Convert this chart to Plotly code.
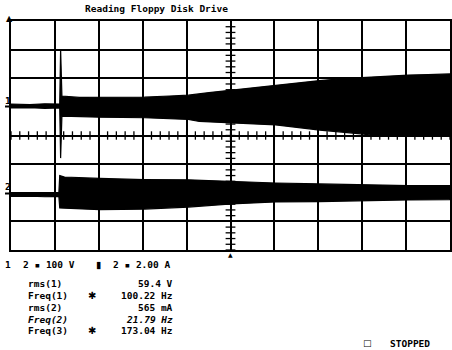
import plotly.graph_objects as go
import numpy as np

# ---- data (screen divisions; x: 0..10 div, y: -4..4 div) ----
title_text = "Reading Floppy Disk Drive"

ch1_top_x = [0, 0.43, 0.77, 1.11, 1.13, 1.16, 1.56, 2.02, 2.47, 3.04, 3.61, 4.04, 4.51,
             5.03, 5.53, 6.03, 6.55, 7.03, 7.57, 8.03, 8.48, 9.05, 9.50, 10]
ch1_top_y = [1.10, 1.08, 1.11, 1.10, 3.02, 1.38, 1.33, 1.34, 1.33, 1.34, 1.38, 1.41, 1.50,
             1.59, 1.68, 1.75, 1.83, 1.92, 1.99, 2.03, 2.08, 2.11, 2.13, 2.15]
ch1_bot_x = [0, 0.43, 0.77, 1.11, 1.13, 1.16, 2.02, 3.04, 4.04, 4.29, 5.03, 6.03, 7.03,
             7.69, 8.03, 8.37, 9.05, 10]
ch1_bot_y = [0.96, 0.97, 0.95, 0.96, -0.79, 0.68, 0.64, 0.62, 0.56, 0.49, 0.45, 0.37, 0.19,
             0.09, 0.05, -0.02, -0.02, -0.02]

ch2_top_x = [0, 0.43, 0.77, 1.09, 1.11, 1.22, 2.02, 3.04, 4.04, 5.03, 6.03, 7.03, 8.03, 9.05, 10]
ch2_top_y = [-2.01, -2.02, -2.00, -2.01, -1.40, -1.45, -1.50, -1.54, -1.55, -1.61, -1.66,
             -1.69, -1.73, -1.75, -1.75]
ch2_bot_x = [0, 0.43, 0.77, 1.09, 1.11, 2.02, 3.04, 4.04, 5.03, 6.03, 7.03, 8.03, 9.05, 10]
ch2_bot_y = [-2.13, -2.12, -2.14, -2.13, -2.53, -2.59, -2.57, -2.50, -2.39, -2.32, -2.31,
             -2.29, -2.25, -2.24]

header_ch1 = "2 ▪ 100 V"
header_ch2 = "2 ▪ 2.00 A"
meas_labels = ["rms(1)", "Freq(1)", "rms(2)", "<i>Freq(2)</i>", "Freq(3)"]
meas_flags = ["", "✱", "", "", "✱"]
meas_values = ["59.4 V", "100.22 Hz", "565 mA", "<i>21.79 Hz</i>", "173.04 Hz"]
status_text = "STOPPED"

# ---- layout geometry ----
W, H = 452, 350
L, T, B, R = 11, 21, 100, 0
PW, PH = W - L - R, H - T - B

def paper(xp, yp):
    return (xp - L) / PW, (H - B - yp) / PH

FONT = "DejaVu Sans Mono"

fig = go.Figure()

def band(tx, ty, bx, by):
    xs = list(tx) + list(bx)[::-1]
    ys = list(ty) + list(by)[::-1]
    return go.Scatter(x=xs, y=ys, mode="lines", fill="toself", fillcolor="black",
                      line=dict(color="black", width=1.2), hoverinfo="skip", showlegend=False)

fig.add_trace(band(ch1_top_x, ch1_top_y, ch1_bot_x, ch1_bot_y))
fig.add_trace(band(ch2_top_x, ch2_top_y, ch2_bot_x, ch2_bot_y))

# graticule centre-line minor ticks
minor_y = np.arange(-4, 4.001, 0.2)
minor_x = np.arange(0, 10.001, 0.2)
fig.add_trace(go.Scatter(x=np.full(len(minor_y), 5.0), y=minor_y, mode="markers",
                         marker=dict(symbol="line-ew", size=7, line=dict(color="black", width=1.3)),
                         hoverinfo="skip", showlegend=False, cliponaxis=False))
fig.add_trace(go.Scatter(x=minor_x, y=np.zeros(len(minor_x)), mode="markers",
                         marker=dict(symbol="line-ns", size=6, line=dict(color="black", width=1.3)),
                         hoverinfo="skip", showlegend=False))

ann = []
def text(xp, yp, s, size=9.5, xanchor="left", bold=True, family=FONT):
    px, py = paper(xp, yp)
    ann.append(dict(x=px, y=py, xref="paper", yref="paper", text=("<b>%s</b>" % s) if bold else s,
                    showarrow=False, xanchor=xanchor, yanchor="middle",
                    font=dict(family=family, size=size, color="black")))

text(157, 8.5, title_text, xanchor="center")
text(7.5, 100, "1", xanchor="center")
text(7.5, 186.5, "2", xanchor="center")
text(9, 18.5, "▲", size=8, xanchor="center", family="DejaVu Sans")
text(232, 254.5, "▲", size=6, xanchor="center", family="DejaVu Sans")
text(3, 264, "1")
text(21, 264, header_ch1)
text(94.5, 264, "▮", family="DejaVu Sans")
text(111, 264, header_ch2)
rows_y = [283, 295, 307, 319, 330.5]
for yy, lab, flag, val in zip(rows_y, meas_labels, meas_flags, meas_values):
    text(26.5, yy, lab)
    if flag:
        text(92, yy, flag, size=10, xanchor="center", family="DejaVu Sans")
    text(175.5, yy, val, xanchor="right")
text(369, 343, "□", size=9, xanchor="center", family="DejaVu Sans")
text(390, 343, status_text)

shapes = [
    dict(type="line", xref="paper", yref="paper", x0=paper(5, 0)[0], x1=paper(11, 0)[0],
         y0=paper(0, 106.5)[1], y1=paper(0, 106.5)[1], line=dict(color="black", width=2)),
    dict(type="line", xref="paper", yref="paper", x0=paper(5, 0)[0], x1=paper(11, 0)[0],
         y0=paper(0, 193.5)[1], y1=paper(0, 193.5)[1], line=dict(color="black", width=2)),
]

axis_common = dict(showgrid=True, gridcolor="black", gridwidth=1.5, zeroline=False,
                   showticklabels=False, ticks="", showline=True, linecolor="black",
                   linewidth=1.5, mirror=True, fixedrange=True)
fig.update_layout(
    width=W, height=H, margin=dict(l=L, r=R, t=T, b=B, pad=0),
    paper_bgcolor="white", plot_bgcolor="white", showlegend=False,
    xaxis=dict(range=[0, 10], dtick=1, **axis_common),
    yaxis=dict(range=[-4, 4], dtick=1, **axis_common),
    annotations=ann, shapes=shapes,
)

fig.write_html("out.html", config={"displayModeBar": False},
               post_script="document.body.style.margin='0';")
